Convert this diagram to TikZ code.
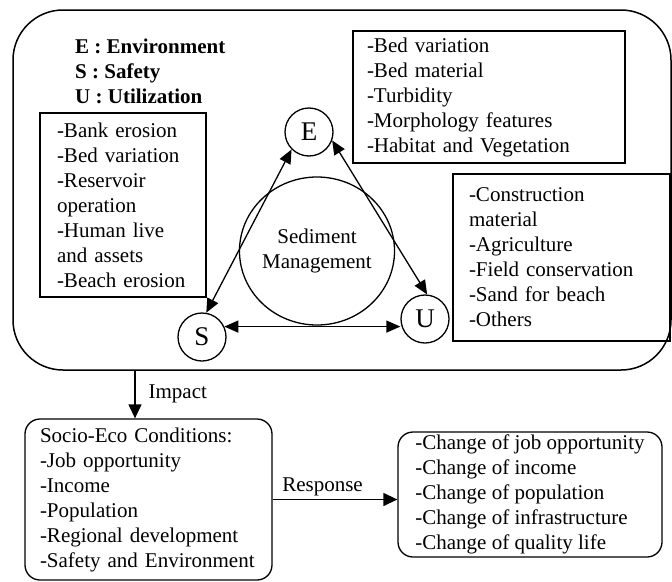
\documentclass[tikz,border=0pt]{standalone}
\usepackage{fontspec}
\setmainfont{Liberation Serif}
\usetikzlibrary{arrows.meta,calc,positioning,shapes.geometric}

\newcommand\bodysize{\fontsize{21}{25}\selectfont}
\newcommand\lettersize{\fontsize{27}{30}\selectfont}

\begin{document}
\begin{tikzpicture}[
  x=1pt,y=-1pt,
  font=\bodysize,
  frame/.style ={draw,rectangle,rounded corners=50pt,line width=1.5pt},
  letter/.style={draw,circle,minimum size=48pt,inner sep=0pt,
                 line width=1.3pt,font=\lettersize},
  sedi/.style  ={draw,ellipse,minimum width=136pt,minimum height=148pt,
                 line width=1.3pt,align=center,inner sep=0pt},
  listbox/.style={draw,rectangle,align=left,inner ysep=0pt,line width=1.3pt},
  condbox/.style={draw,rectangle,rounded corners=15pt,align=left,
                  inner ysep=0pt,line width=1.3pt},
  tip/.style   ={-{Triangle[length=14pt,width=13pt]},line width=1.3pt},
  twotip/.style={{Triangle[length=14pt,width=12pt]}-{Triangle[length=14pt,width=12pt]},
                 line width=1.3pt},
]
\useasboundingbox (0,0) rectangle (672,581);

%% ---------------------------------------------
%%  Outer frame and legend
%% ---------------------------------------------
\node[frame,minimum width=658pt,minimum height=360pt] (frame) at (342,190) {};

\node[anchor=west,align=left,inner sep=0pt,font=\bodysize\bfseries] (legend) at (75,71)
      {E : Environment\\S : Safety\\U : Utilization};

%% ---------------------------------------------
%%  Triangle E - S - U round the sediment ellipse
%% ---------------------------------------------
\node[sedi] (sed) at (317,251) {Sediment\\Management};

\node[letter] (E) at (309,132) {E};
\node[letter] (S) at (202,337) {S};
\node[letter] (U) at (425,319) {U};

\draw[twotip] (S.80) -- (E.225);
\draw[twotip] (E.-20) -- (U.85);
\draw[twotip] (S.25) -- (S.25 -| U.west);

%% ---------------------------------------------
%%  Item lists
%% ---------------------------------------------
\node[listbox,inner xsep=17pt,text width=132pt,minimum height=184pt] (slist) at (123,205)
      {-Bank erosion\\-Bed variation\\-Reservoir\\operation\\-Human live\\and assets\\-Beach erosion};

\node[listbox,inner xsep=14pt,text width=244pt,minimum height=132pt] (elist) at (489,97)
      {-Bed variation\\-Bed material\\-Turbidity\\-Morphology features\\-Habitat and Vegetation};

\node[listbox,inner xsep=16pt,text width=185pt,minimum height=167pt] (ulist) at (561.5,257.5)
      {-Construction\\material\\-Agriculture\\-Field conservation\\-Sand for beach\\-Others\\[10pt]};

%% ---------------------------------------------
%%  Impact and response
%% ---------------------------------------------
\node[condbox,inner xsep=15pt,text width=217pt,minimum height=161pt] (socio) at (148.5,499.5)
      {Socio-Eco Conditions:\\-Job opportunity\\-Income\\-Population\\-Regional development\\-Safety and Environment};

\node[condbox,inner xsep=0pt,minimum width=264pt,minimum height=125pt] (change) at (530,494.5)
      {-Change of job opportunity\\-Change of income\\-Change of population\\-Change of infrastructure\\-Change of quality life};

\coordinate (imp) at (135,370);
\draw[tip] (imp) -- node[right=13pt,inner sep=0pt] {Impact} (imp |- socio.north);

\draw[tip] (socio.east) -- node[pos=0.4,above=3pt,inner sep=0pt] {Response} (socio.east -| change.west);

\end{tikzpicture}
\end{document}
